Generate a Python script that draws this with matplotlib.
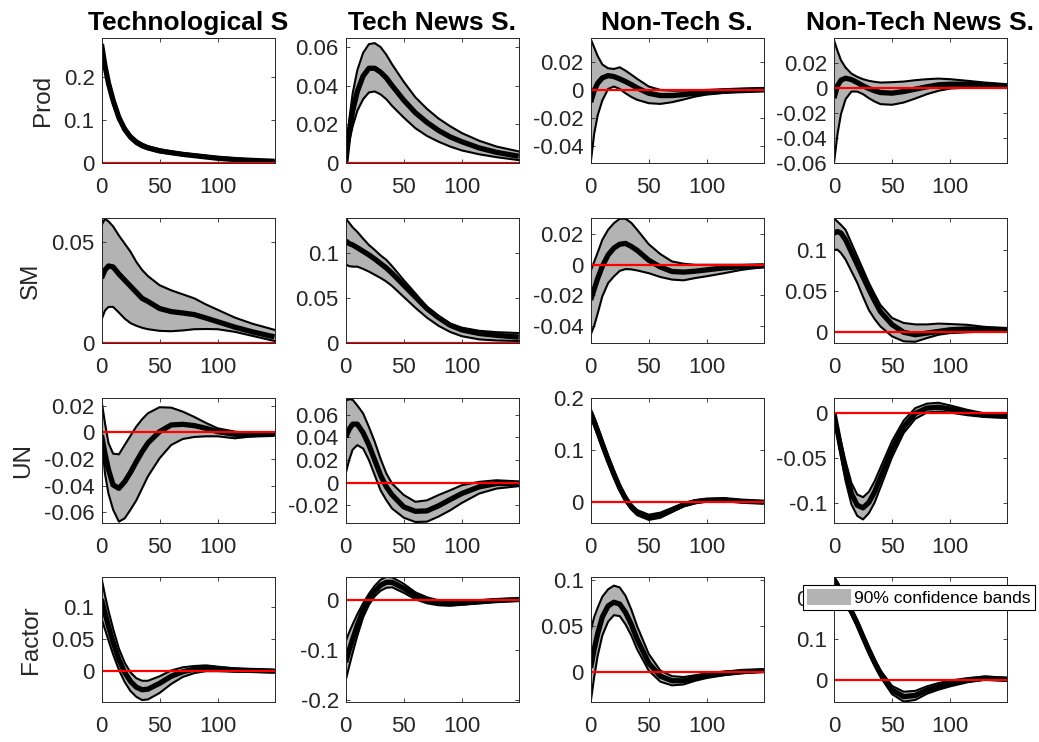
import matplotlib
matplotlib.use("Agg")
import matplotlib.pyplot as plt
from matplotlib.patches import Patch

plt.rcParams['font.family'] = ['Liberation Sans', 'DejaVu Sans']

h = [0, 3, 6, 10, 15, 20, 25, 30, 35, 40, 50, 60, 70, 80, 90, 100, 115, 130, 149]

shocks = ["Technological S", "Tech News S.", "Non-Tech S.", "Non-Tech News S."]
variables = ["Prod", "SM", "UN", "Factor"]

# ---- Prod ----
prod_tech_mid = [0.275, 0.225, 0.185, 0.145, 0.105, 0.078, 0.06, 0.048, 0.04, 0.035, 0.028, 0.024, 0.02, 0.017, 0.014, 0.011, 0.008, 0.006, 0.004]
prod_tech_lo = [0.265, 0.215, 0.177, 0.138, 0.099, 0.073, 0.056, 0.044, 0.037, 0.032, 0.025, 0.021, 0.018, 0.015, 0.012, 0.009, 0.006, 0.004, 0.002]
prod_tech_hi = [0.287, 0.236, 0.195, 0.153, 0.112, 0.084, 0.065, 0.053, 0.045, 0.039, 0.032, 0.027, 0.023, 0.02, 0.017, 0.014, 0.011, 0.008, 0.006]

prod_news_mid = [0.0, 0.016, 0.027, 0.037, 0.045, 0.049, 0.049, 0.047, 0.044, 0.04, 0.0325, 0.026, 0.021, 0.0168, 0.0135, 0.011, 0.0078, 0.0055, 0.0035]
prod_news_lo = [0.0, 0.011, 0.019, 0.027, 0.033, 0.0365, 0.037, 0.0355, 0.033, 0.0295, 0.0235, 0.018, 0.014, 0.011, 0.0085, 0.0065, 0.0045, 0.003, 0.0015]
prod_news_hi = [0.0, 0.022, 0.036, 0.048, 0.057, 0.0615, 0.062, 0.06, 0.056, 0.051, 0.042, 0.034, 0.028, 0.023, 0.019, 0.0155, 0.0115, 0.0085, 0.006]

prod_nt_mid = [-0.0087, -0.0005, 0.0047, 0.0085, 0.0101, 0.0094, 0.0078, 0.0059, 0.0038, 0.0014, -0.0024, -0.004, -0.004, -0.0033, -0.0024, -0.0016, -0.0009, -0.0005, 0.0]
prod_nt_lo = [-0.0515, -0.031, -0.018, -0.0075, 0.0007, 0.0024, 0.0007, -0.0024, -0.005, -0.007, -0.0094, -0.0099, -0.0087, -0.0068, -0.0047, -0.0033, -0.0021, -0.0012, -0.0005]
prod_nt_hi = [0.036, 0.03, 0.024, 0.018, 0.0153, 0.0148, 0.016, 0.0136, 0.0108, 0.0078, 0.0024, 0.0, -0.0005, -0.0005, -0.0003, 0.0, 0.0005, 0.001, 0.0014]

prod_ntn_mid = [-0.008, 0.0019, 0.0064, 0.008, 0.0069, 0.0045, 0.0019, -0.0003, -0.0021, -0.0035, -0.004, -0.0027, -0.0008, 0.0011, 0.0027, 0.0032, 0.0032, 0.0027, 0.0016]
prod_ntn_lo = [-0.06, -0.0368, -0.0208, -0.0088, -0.0027, -0.0027, -0.0048, -0.008, -0.0107, -0.0128, -0.0133, -0.0115, -0.0083, -0.0048, -0.0021, -0.0003, 0.0005, 0.0005, 0.0011]
prod_ntn_hi = [0.0384, 0.03, 0.0224, 0.0165, 0.0117, 0.0091, 0.0072, 0.0059, 0.0051, 0.0045, 0.0048, 0.0053, 0.0064, 0.0072, 0.0077, 0.0072, 0.0059, 0.0045, 0.0032]

# ---- SM ----
sm_tech_mid = [0.032, 0.036, 0.038, 0.0375, 0.034, 0.031, 0.028, 0.025, 0.022, 0.0205, 0.017, 0.0155, 0.0148, 0.014, 0.0123, 0.0105, 0.0078, 0.0055, 0.003]
sm_tech_lo = [0.0115, 0.016, 0.0178, 0.0178, 0.015, 0.012, 0.0098, 0.0085, 0.0075, 0.0068, 0.006, 0.0058, 0.0062, 0.0068, 0.0069, 0.0068, 0.0055, 0.0035, 0.001]
sm_tech_hi = [0.058, 0.0612, 0.06, 0.0575, 0.053, 0.049, 0.045, 0.04, 0.036, 0.033, 0.0285, 0.026, 0.024, 0.022, 0.019, 0.0164, 0.0125, 0.0095, 0.0065]

sm_news_mid = [0.113, 0.11, 0.1085, 0.1055, 0.1015, 0.0975, 0.093, 0.088, 0.083, 0.077, 0.064, 0.051, 0.038, 0.028, 0.0196, 0.0145, 0.0105, 0.0085, 0.0065]
sm_news_lo = [0.087, 0.085, 0.0845, 0.0845, 0.082, 0.079, 0.0755, 0.072, 0.068, 0.063, 0.051, 0.039, 0.028, 0.019, 0.0122, 0.0075, 0.004, 0.0028, 0.0022]
sm_news_hi = [0.138, 0.133, 0.128, 0.123, 0.1155, 0.1085, 0.103, 0.097, 0.092, 0.085, 0.0696, 0.055, 0.04, 0.03, 0.0215, 0.017, 0.0135, 0.012, 0.011]

sm_nt_mid = [-0.023, -0.016, -0.009, -0.001, 0.0065, 0.011, 0.0135, 0.014, 0.012, 0.0095, 0.003, -0.0015, -0.0044, -0.0048, -0.0042, -0.0033, -0.002, -0.0012, -0.0007]
sm_nt_lo = [-0.0458, -0.04, -0.032, -0.0207, -0.012, -0.0076, -0.004, -0.0028, -0.003, -0.0037, -0.0055, -0.008, -0.0097, -0.0102, -0.0087, -0.0075, -0.0055, -0.0033, -0.0015]
sm_nt_hi = [-0.004, 0.002, 0.008, 0.0164, 0.023, 0.0273, 0.0302, 0.0302, 0.0275, 0.023, 0.0135, 0.007, 0.0022, 0.0007, 0.0, 0.0, 0.0, 0.0, 0.0]

sm_ntn_mid = [0.12, 0.122, 0.12, 0.112, 0.097, 0.082, 0.067, 0.052, 0.038, 0.025, 0.0093, 0.0, -0.003, -0.001, 0.001, 0.003, 0.004, 0.0035, 0.003]
sm_ntn_lo = [0.1, 0.1, 0.096, 0.088, 0.074, 0.06, 0.043, 0.027, 0.016, 0.007, -0.005, -0.011, -0.0115, -0.007, -0.003, -0.001, 0.0, 0.001, 0.001]
sm_ntn_hi = [0.138, 0.134, 0.13, 0.124, 0.108, 0.092, 0.076, 0.06, 0.046, 0.033, 0.0173, 0.0113, 0.0095, 0.0095, 0.0105, 0.01, 0.009, 0.0065, 0.0052]

# ---- UN ----
un_tech_mid = [-0.002, -0.016, -0.028, -0.0395, -0.042, -0.037, -0.03, -0.022, -0.0145, -0.008, 0.0005, 0.0055, 0.006, 0.005, 0.003, 0.0005, -0.0015, -0.002, -0.0015]
un_tech_lo = [-0.003, -0.031, -0.046, -0.058, -0.067, -0.0645, -0.058, -0.051, -0.042, -0.033, -0.0195, -0.0095, -0.005, -0.0035, -0.003, -0.003, -0.0045, -0.003, -0.002]
un_tech_hi = [0.024, 0.0068, -0.008, -0.016, -0.0165, -0.0095, -0.0025, 0.0043, 0.0098, 0.0143, 0.0188, 0.0185, 0.0155, 0.0115, 0.007, 0.003, 0.0005, -0.0008, -0.0008]

un_news_mid = [0.04, 0.047, 0.0515, 0.0515, 0.044, 0.033, 0.0198, 0.0065, -0.0038, -0.011, -0.0215, -0.0254, -0.025, -0.0205, -0.015, -0.0097, -0.0038, -0.0009, -0.0009]
un_news_lo = [0.008, 0.02, 0.029, 0.033, 0.03, 0.0198, 0.0065, -0.0068, -0.0156, -0.023, -0.031, -0.0348, -0.0345, -0.03, -0.0245, -0.018, -0.0097, -0.0053, -0.0032]
un_news_hi = [0.072, 0.0735, 0.073, 0.068, 0.061, 0.049, 0.036, 0.021, 0.008, -0.001, -0.011, -0.017, -0.0157, -0.011, -0.0068, -0.0024, 0.0006, 0.002, 0.001]

un_nt_mid = [0.172, 0.155, 0.137, 0.112, 0.082, 0.054, 0.028, 0.007, -0.009, -0.02, -0.029, -0.025, -0.015, -0.005, 0.001, 0.004, 0.005, 0.002, 0.0]
un_nt_lo = [0.164, 0.147, 0.129, 0.104, 0.075, 0.047, 0.022, 0.001, -0.014, -0.025, -0.034, -0.03, -0.019, -0.008, -0.002, 0.002, 0.003, 0.0, -0.002]
un_nt_hi = [0.18, 0.163, 0.145, 0.12, 0.089, 0.061, 0.034, 0.013, -0.004, -0.015, -0.024, -0.02, -0.011, -0.002, 0.004, 0.006, 0.007, 0.004, 0.002]

un_ntn_mid = [0.0, -0.02, -0.04, -0.065, -0.09, -0.103, -0.106, -0.1, -0.088, -0.072, -0.04, -0.015, 0.0, 0.006, 0.007, 0.005, 0.001, -0.002, -0.003]
un_ntn_lo = [0.0, -0.025, -0.048, -0.076, -0.102, -0.115, -0.119, -0.112, -0.1, -0.083, -0.049, -0.022, -0.006, 0.001, 0.002, 0.001, -0.002, -0.004, -0.005]
un_ntn_hi = [0.0, -0.015, -0.032, -0.054, -0.078, -0.091, -0.094, -0.088, -0.076, -0.061, -0.031, -0.008, 0.006, 0.011, 0.012, 0.009, 0.004, 0.0, -0.001]

# ---- Factor ----
fac_tech_mid = [0.112, 0.09, 0.07, 0.045, 0.018, -0.002, -0.016, -0.025, -0.029, -0.028, -0.019, -0.008, -0.001, 0.003, 0.005, 0.004, 0.002, 0.001, 0.0]
fac_tech_lo = [0.082, 0.065, 0.048, 0.026, 0.002, -0.017, -0.031, -0.04, -0.045, -0.044, -0.034, -0.02, -0.009, -0.003, 0.0, 0.0, -0.001, -0.001, -0.002]
fac_tech_hi = [0.145, 0.118, 0.094, 0.066, 0.035, 0.013, -0.002, -0.011, -0.015, -0.015, -0.008, 0.001, 0.006, 0.008, 0.009, 0.007, 0.004, 0.003, 0.002]

fac_news_mid = [-0.124, -0.1, -0.078, -0.05, -0.02, 0.002, 0.018, 0.03, 0.036, 0.036, 0.024, 0.009, 0.0, -0.005, -0.0065, -0.0055, -0.003, -0.0005, 0.0015]
fac_news_lo = [-0.16, -0.132, -0.105, -0.071, -0.034, -0.009, 0.008, 0.019, 0.025, 0.026, 0.015, 0.002, -0.006, -0.01, -0.011, -0.009, -0.006, -0.003, -0.001]
fac_news_hi = [-0.082, -0.064, -0.048, -0.028, -0.006, 0.013, 0.029, 0.041, 0.047, 0.046, 0.033, 0.016, 0.006, 0.0, -0.002, -0.002, 0.0, 0.002, 0.004]

fac_nt_mid = [0.005, 0.025, 0.042, 0.06, 0.072, 0.076, 0.074, 0.065, 0.052, 0.036, 0.01, -0.004, -0.009, -0.009, -0.006, -0.003, -0.001, 0.001, 0.002]
fac_nt_lo = [-0.032, -0.005, 0.018, 0.04, 0.055, 0.062, 0.061, 0.052, 0.04, 0.025, 0.002, -0.01, -0.014, -0.013, -0.009, -0.006, -0.003, -0.001, 0.001]
fac_nt_hi = [0.045, 0.06, 0.07, 0.082, 0.09, 0.094, 0.092, 0.083, 0.068, 0.05, 0.02, 0.002, -0.004, -0.005, -0.003, -0.001, 0.001, 0.002, 0.003]

fac_ntn_mid = [0.245, 0.23, 0.215, 0.195, 0.167, 0.138, 0.105, 0.073, 0.043, 0.016, -0.024, -0.04, -0.037, -0.024, -0.015, -0.008, 0.0, 0.005, 0.002]
fac_ntn_lo = [0.238, 0.222, 0.207, 0.187, 0.159, 0.13, 0.097, 0.065, 0.035, 0.008, -0.034, -0.052, -0.048, -0.033, -0.023, -0.015, -0.005, 0.001, -0.001]
fac_ntn_hi = [0.25, 0.238, 0.223, 0.203, 0.175, 0.146, 0.113, 0.081, 0.051, 0.024, -0.014, -0.028, -0.026, -0.015, -0.007, -0.001, 0.005, 0.009, 0.006]

grid = [
    [(prod_tech_lo, prod_tech_mid, prod_tech_hi), (prod_news_lo, prod_news_mid, prod_news_hi),
     (prod_nt_lo, prod_nt_mid, prod_nt_hi), (prod_ntn_lo, prod_ntn_mid, prod_ntn_hi)],
    [(sm_tech_lo, sm_tech_mid, sm_tech_hi), (sm_news_lo, sm_news_mid, sm_news_hi),
     (sm_nt_lo, sm_nt_mid, sm_nt_hi), (sm_ntn_lo, sm_ntn_mid, sm_ntn_hi)],
    [(un_tech_lo, un_tech_mid, un_tech_hi), (un_news_lo, un_news_mid, un_news_hi),
     (un_nt_lo, un_nt_mid, un_nt_hi), (un_ntn_lo, un_ntn_mid, un_ntn_hi)],
    [(fac_tech_lo, fac_tech_mid, fac_tech_hi), (fac_news_lo, fac_news_mid, fac_news_hi),
     (fac_nt_lo, fac_nt_mid, fac_nt_hi), (fac_ntn_lo, fac_ntn_mid, fac_ntn_hi)],
]

ylims = [
    [(0, 0.289), (0, 0.0645), (-0.0517, 0.0365), (-0.06, 0.04)],
    [(0, 0.0615), (0, 0.138), (-0.0513, 0.0305), (-0.013, 0.138)],
    [(-0.068, 0.0255), (-0.0357, 0.0743), (-0.04, 0.197), (-0.123, 0.017)],
    [(-0.048, 0.146), (-0.2035, 0.046), (-0.032, 0.103), (-0.053, 0.25)],
]
yticks = [
    [[0, 0.1, 0.2], [0, 0.02, 0.04, 0.06], [-0.04, -0.02, 0, 0.02], [-0.06, -0.04, -0.02, 0, 0.02]],
    [[0, 0.05], [0, 0.05, 0.1], [-0.04, -0.02, 0, 0.02], [0, 0.05, 0.1]],
    [[-0.06, -0.04, -0.02, 0, 0.02], [-0.02, 0, 0.02, 0.04, 0.06], [0, 0.1, 0.2], [-0.1, -0.05, 0]],
    [[0, 0.05, 0.1], [-0.2, -0.1, 0], [0, 0.05, 0.1], [0, 0.1, 0.2]],
]

W, H = 1039, 742
fig = plt.figure(figsize=(W / 100, H / 100), dpi=100)

lefts = [101.5, 345.7, 590.7, 834]
tops = [38.3, 218.3, 398.3, 577.3]
aw, ah = 173, 124.7
band_col = '#b3b3b3'
txt_col = '#262626'

for i in range(4):
    for j in range(4):
        ax = fig.add_axes([lefts[j] / W, 1 - (tops[i] + ah) / H, aw / W, ah / H])
        lo, mid, hi = grid[i][j]
        ax.fill_between(h, lo, hi, color=band_col, linewidth=0)
        ax.plot(h, lo, color='black', lw=1.5)
        ax.plot(h, hi, color='black', lw=1.5)
        ax.plot(h, mid, color='black', lw=3.8, solid_capstyle='butt')
        ax.plot([0, 149], [0, 0], color='red', lw=1.6)
        ax.set_xlim(0, 149)
        ax.set_ylim(*ylims[i][j])
        ax.set_xticks([0, 50, 100])
        ax.set_yticks(yticks[i][j])
        ax.set_yticklabels(['%g' % t for t in yticks[i][j]])
        ax.tick_params(direction='in', length=3, width=0.6, top=True, right=True,
                       labelsize=16, colors=txt_col)
        ax.tick_params(axis='x', pad=10)
        ax.tick_params(axis='y', pad=5)
        for s in ax.spines.values():
            s.set_color(txt_col)
            s.set_linewidth(0.7)
        if i == 0:
            ax.set_title(shocks[j], fontsize=19, fontweight='bold', pad=6)
        if j == 0:
            ax.set_ylabel(variables[i], fontsize=17.5, color=txt_col, labelpad=7)
        if i == 3 and j == 3:
            leg = ax.legend([Patch(facecolor=band_col, edgecolor='none')], ['90% confidence bands'],
                            loc='upper left', bbox_to_anchor=(803 / W, 1 - 585 / H),
                            bbox_transform=fig.transFigure, borderaxespad=0, fontsize=12.5,
                            fancybox=False, framealpha=1, handlelength=2.5, handleheight=1.0,
                            handletextpad=0.2, borderpad=0.25)
            leg.get_frame().set_edgecolor('black')
            leg.get_frame().set_linewidth(0.8)

fig.savefig('out.png', dpi=100)
